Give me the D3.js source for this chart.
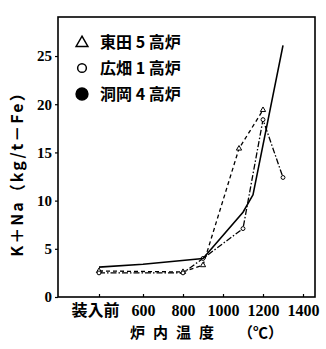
<!DOCTYPE html>
<html>
<head>
<meta charset="utf-8">
<script src="https://cdn.jsdelivr.net/npm/d3@7"></script>
<style>
body { margin: 0; background: #fff; }
svg { display: block; }
</style>
</head>
<body>
<div id="chart"></div>
<script>
// temperatures, 380 stands for "before charging"
var xTicks = [380, 600, 800, 1000, 1200, 1400];
var xTickLabels = ["装入前", "600", "800", "1000", "1200", "1400"];
var yTicks = [0, 5, 10, 15, 20, 25];

var seriesNames = ["東田 5 高炉", "広畑 1 高炉", "洞岡 4 高炉"];
var higashidaT = [380, 800, 900, 1080, 1200];
var higashidaV = [2.7, 2.6, 3.3, 15.4, 19.4];
var hirohataT = [380, 800, 900, 1100, 1200, 1300];
var hirohataV = [2.5, 2.5, 4.0, 7.1, 18.4, 12.4];
var kukiokaT = [380, 600, 900, 1100, 1150, 1300];
var kukiokaV = [3.1, 3.4, 4.0, 8.8, 10.6, 26.1];

var W = 326, H = 349;
var svg = d3.select("#chart").append("svg")
	.attr("width", W)
	.attr("height", H);

var x = d3.scaleLinear().domain([175, 1460]).range([58, 315]);
var y = d3.scaleLinear().domain([0, 29.05]).range([297, 17]);

// frame
svg.append("rect")
	.attr("x", x.range()[0]).attr("y", y.range()[1])
	.attr("width", x.range()[1] - x.range()[0])
	.attr("height", y.range()[0] - y.range()[1])
	.attr("fill", "none").attr("stroke", "#000").attr("stroke-width", 1.6);

// y axis
var yAxis = svg.append("g")
	.attr("transform", "translate(58,0)")
	.call(d3.axisLeft(y).tickValues(yTicks).tickSize(3).tickFormat(d3.format("d")));
yAxis.select(".domain").remove();
yAxis.selectAll("text")
	.attr("font-family", "Liberation Serif")
	.attr("font-weight", "bold")
	.attr("font-size", "15px")
	.attr("x", -6);
yAxis.selectAll("line").attr("stroke-width", 1.2);

// x axis
var xAxis = svg.append("g")
	.attr("transform", "translate(0,297)")
	.call(d3.axisBottom(x).tickValues(xTicks).tickSizeInner(-3).tickSizeOuter(0)
		.tickFormat(function(d, i) { return xTickLabels[i]; }));
xAxis.select(".domain").remove();
xAxis.selectAll("text")
	.attr("font-family", function(d, i) { return i === 0 ? "Noto Sans CJK JP" : "Liberation Serif"; })
	.attr("font-weight", "bold")
	.attr("font-size", "16px")
	.attr("y", 8)
	.attr("dx", function(d, i) { return i === 0 ? -4 : 0; });
xAxis.selectAll("line").attr("stroke-width", 1.2);

// axis titles
svg.append("text")
	.attr("transform", "translate(23,170)rotate(-90)")
	.attr("text-anchor", "middle")
	.attr("font-family", "Noto Sans CJK JP")
	.attr("font-weight", "bold")
	.attr("font-size", "16px")
	.attr("letter-spacing", "2px")
	.text("K＋Na（kg/t－Fe）");

svg.append("text")
	.attr("x", 130).attr("y", 338)
	.attr("font-family", "Noto Sans CJK JP")
	.attr("font-weight", "bold")
	.attr("font-size", "15px")
	.attr("letter-spacing", "8px")
	.text("炉内温度");
svg.append("text")
	.attr("x", 238).attr("y", 338)
	.attr("font-family", "Noto Sans CJK JP")
	.attr("font-weight", "bold")
	.attr("font-size", "15px")
	.text("（℃）");

// series
var series = [
	{name: seriesNames[0], t: higashidaT, v: higashidaV, dash: "4,3", marker: "tri"},
	{name: seriesNames[1], t: hirohataT, v: hirohataV, dash: "6,2,1.5,2", marker: "circ"},
	{name: seriesNames[2], t: kukiokaT, v: kukiokaV, dash: null, marker: "dot"}
];

var line = d3.line()
	.x(function(d) { return x(d[0]); })
	.y(function(d) { return y(d[1]); });

series.forEach(function(s) {
	var pts = s.t.map(function(t, i) { return [t, s.v[i]]; });
	svg.append("path")
		.datum(pts)
		.attr("d", line)
		.attr("fill", "none")
		.attr("stroke", "#000")
		.attr("stroke-width", s.dash ? 1.3 : 1.6)
		.attr("stroke-dasharray", s.dash);
	if (s.marker === "dot") return;
	svg.selectAll(null)
		.data(pts)
		.enter()
		.append("path")
		.attr("transform", function(d) { return "translate(" + x(d[0]) + "," + y(d[1]) + ")"; })
		.attr("d", d3.symbol().type(s.marker === "tri" ? d3.symbolTriangle : d3.symbolCircle).size(12))
		.attr("fill", "#fff")
		.attr("stroke", "#000")
		.attr("stroke-width", 1);
});

// legend
var legend = svg.append("g");
series.forEach(function(s, i) {
	var ly = 42 + i * 26;
	var sym = s.marker === "tri" ? d3.symbolTriangle : d3.symbolCircle;
	legend.append("path")
		.attr("transform", "translate(82," + (ly + (s.marker === "tri" ? 1 : 0)) + ")")
		.attr("d", d3.symbol().type(sym).size(s.marker === "dot" ? 110 : 60))
		.attr("fill", s.marker === "dot" ? "#000" : "#fff")
		.attr("stroke", "#000")
		.attr("stroke-width", 1.5);
	legend.append("text")
		.attr("x", 100).attr("y", ly)
		.attr("dy", "0.35em")
		.attr("font-family", "Noto Sans CJK JP")
		.attr("font-weight", "bold")
		.attr("font-size", "16px")
		.text(s.name);
});
</script>
</body>
</html>
